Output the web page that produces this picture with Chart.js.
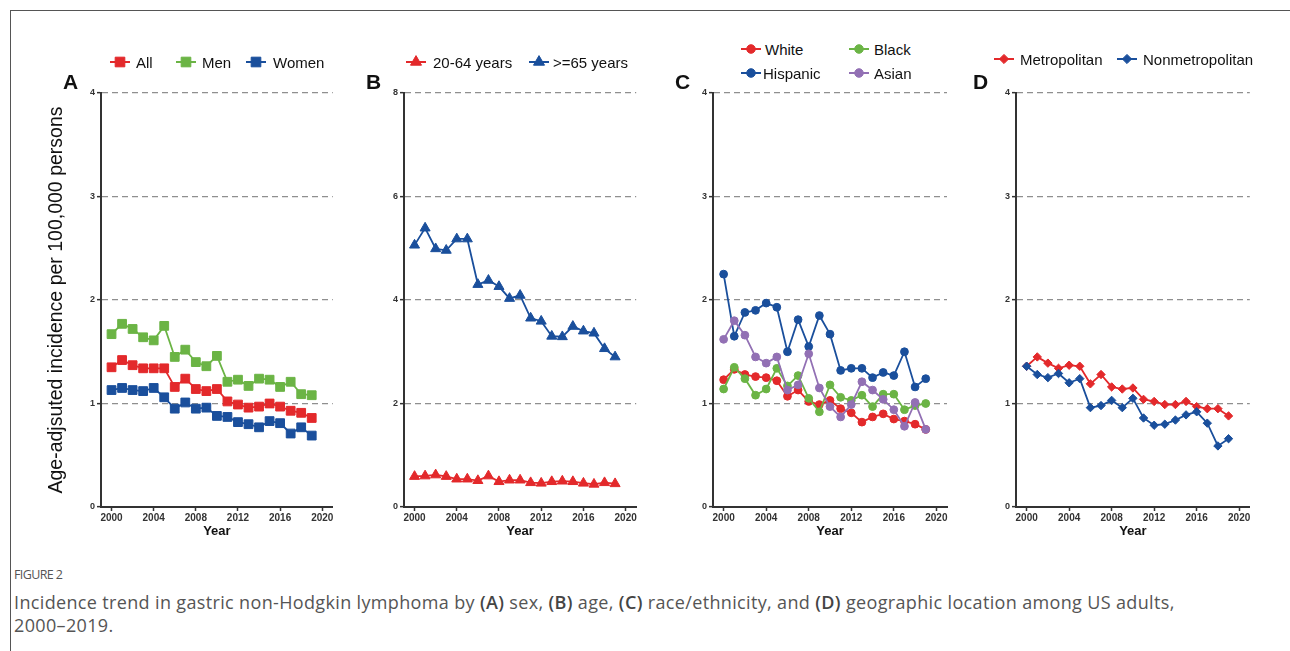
<!DOCTYPE html>
<html>
<head>
<meta charset="utf-8">
<script src="https://cdn.jsdelivr.net/npm/chart.js@4.4.1/dist/chart.umd.min.js"></script>
<style>
    body { margin: 0; background: #fff; width: 1290px; height: 651px; overflow: hidden; position: relative; font-family: Arial, "Liberation Sans", sans-serif; }
    .frame { position: absolute; left: 10px; top: 10px; width: 1300px; height: 700px; border-top: 1px solid #555; border-left: 1px solid #555; }
    canvas { position: absolute; }
    .letter { position: absolute; font-weight: bold; font-size: 21px; color: #111; line-height: 1; transform: translateY(-50%); }
    .leg { position: absolute; font-size: 15px; color: #111; line-height: 1; transform: translateY(-50%); white-space: nowrap; }
    .leg_icon { position: absolute; transform: translateY(-50%); }
    .fig_label { position: absolute; left: 14px; top: 566px; font-family: "Open Sans", sans-serif; font-size: 12.5px; color: #555; letter-spacing: -0.6px; }
    .caption { position: absolute; left: 14px; top: 591px; width: 1200px; font-family: "Open Sans", sans-serif; font-size: 18px; line-height: 23px; color: #555; letter-spacing: 0.35px; }
    .caption b { font-weight: 600; color: #444; }
</style>
</head>
<body>
<div class="frame"></div>

<canvas id="chart_a" width="300" height="467" style="left:40px;top:85px;width:300px;height:467px"></canvas>
<canvas id="chart_b" width="273" height="467" style="left:370px;top:85px;width:273px;height:467px"></canvas>
<canvas id="chart_c" width="273" height="467" style="left:679px;top:85px;width:273px;height:467px"></canvas>
<canvas id="chart_d" width="273" height="467" style="left:982px;top:85px;width:273px;height:467px"></canvas>

<div class="letter" style="left:63px;top:81px">A</div>
<div class="letter" style="left:366px;top:81px">B</div>
<div class="letter" style="left:675px;top:81px">C</div>
<div class="letter" style="left:973px;top:81px">D</div>

<div class="fig_label">FIGURE 2</div>
<div class="caption">Incidence trend in gastric non-Hodgkin lymphoma by <b>(A)</b> sex, <b>(B)</b> age, <b>(C)</b> race/ethnicity, and <b>(D)</b> geographic location among US adults,<br>2000–2019.</div>

<script>
"use strict";

const years = [2000, 2001, 2002, 2003, 2004, 2005, 2006, 2007, 2008, 2009,
               2010, 2011, 2012, 2013, 2014, 2015, 2016, 2017, 2018, 2019];

// Panel A: sex
const all_rates   = [1.35, 1.42, 1.37, 1.34, 1.34, 1.34, 1.16, 1.24, 1.14, 1.12, 1.14, 1.02, 0.99, 0.96, 0.97, 1.00, 0.97, 0.93, 0.91, 0.86];
const men_rates   = [1.67, 1.77, 1.72, 1.64, 1.61, 1.75, 1.45, 1.52, 1.40, 1.36, 1.46, 1.21, 1.23, 1.17, 1.24, 1.23, 1.16, 1.21, 1.09, 1.08];
const women_rates = [1.13, 1.15, 1.13, 1.12, 1.15, 1.06, 0.95, 1.01, 0.95, 0.96, 0.88, 0.87, 0.82, 0.80, 0.77, 0.83, 0.81, 0.71, 0.77, 0.69];

// Panel B: age
const age_20_64_rates = [0.59, 0.60, 0.62, 0.59, 0.54, 0.54, 0.51, 0.60, 0.49, 0.52, 0.52, 0.47, 0.46, 0.49, 0.50, 0.49, 0.46, 0.44, 0.47, 0.45];
const age_65_rates    = [5.06, 5.39, 4.99, 4.96, 5.18, 5.18, 4.30, 4.38, 4.26, 4.03, 4.09, 3.65, 3.59, 3.30, 3.29, 3.49, 3.40, 3.36, 3.06, 2.90];

// Panel C: race/ethnicity
const white_rates    = [1.23, 1.33, 1.28, 1.26, 1.25, 1.22, 1.07, 1.13, 1.02, 0.99, 1.03, 0.95, 0.91, 0.82, 0.87, 0.90, 0.85, 0.83, 0.80, 0.75];
const black_rates    = [1.14, 1.35, 1.24, 1.08, 1.14, 1.34, 1.17, 1.27, 1.05, 0.92, 1.18, 1.06, 1.03, 1.08, 0.97, 1.09, 1.09, 0.94, 0.98, 1.00];
const hispanic_rates = [2.25, 1.65, 1.88, 1.90, 1.97, 1.93, 1.50, 1.81, 1.55, 1.85, 1.67, 1.32, 1.34, 1.34, 1.25, 1.30, 1.27, 1.50, 1.16, 1.24];
const asian_rates    = [1.62, 1.80, 1.66, 1.45, 1.39, 1.45, 1.13, 1.18, 1.48, 1.15, 0.97, 0.87, 0.99, 1.21, 1.13, 1.04, 0.94, 0.78, 1.01, 0.75];

// Panel D: geography
const metro_rates    = [1.36, 1.45, 1.39, 1.34, 1.37, 1.36, 1.19, 1.28, 1.16, 1.14, 1.15, 1.04, 1.02, 0.99, 0.99, 1.02, 0.97, 0.95, 0.95, 0.88];
const nonmetro_rates = [1.36, 1.28, 1.25, 1.29, 1.20, 1.24, 0.96, 0.98, 1.03, 0.96, 1.05, 0.86, 0.79, 0.80, 0.84, 0.89, 0.92, 0.81, 0.59, 0.66];

const x_ticks   = [2000, 2004, 2008, 2012, 2016, 2020];
const y_ticks_4 = [0, 1, 2, 3, 4];
const y_ticks_8 = [0, 2, 4, 6, 8];

const colours = {
    red: "#e3292b",
    green: "#6bb445",
    blue: "#1a4f9c",
    purple: "#9270b4"
};

const marker_sizes = { rect: 6.2, triangle: 5.8, circle: 3.9, rectRot: 4.2 };

Chart.defaults.font.family = 'Arial, "Liberation Sans", sans-serif';
Chart.defaults.color = "#222";

function make_dataset(label, values, colour, shape, order) {
    return {
        label: label,
        data: values.map((v, i) => ({x: years[i], y: v})),
        borderColor: colour,
        backgroundColor: colour,
        pointBackgroundColor: colour,
        pointBorderColor: colour,
        pointBorderWidth: 1,
        pointStyle: shape,
        pointRadius: marker_sizes[shape],
        borderWidth: 1.8,
        fill: false,
        tension: 0,
        order: order
    };
}

function create_panel(canvas_id, datasets, y_ticks, y_axis_width, y_title) {
    let ctx = document.getElementById(canvas_id).getContext("2d");
    return new Chart(ctx, {
        type: "line",
        data: { datasets: datasets },
        options: {
            responsive: false,
            animation: false,
            devicePixelRatio: 1,
            layout: { padding: { top: 8, right: 4, left: 0, bottom: 0 } },
            plugins: {
                legend: { display: false },
                tooltip: { enabled: false }
            },
            scales: {
                x: {
                    type: "linear",
                    min: 1999,
                    max: 2021,
                    afterBuildTicks: axis => { axis.ticks = x_ticks.map(v => ({value: v})); },
                    afterFit: axis => { axis.height = 45; },
                    grid: { drawOnChartArea: false, tickLength: 4, tickColor: "#333", tickWidth: 1.5 },
                    border: { color: "#333", width: 2 },
                    ticks: { font: { size: 10, weight: "bold" }, color: "#333", padding: 1, maxRotation: 0, callback: v => String(v) },
                    title: { display: true, text: "Year", font: { size: 13, weight: "bold" }, color: "#111", padding: { top: 0, bottom: 13 } }
                },
                y: {
                    min: 0,
                    max: y_ticks[y_ticks.length - 1],
                    afterBuildTicks: axis => { axis.ticks = y_ticks.map(v => ({value: v})); },
                    afterFit: axis => { axis.width = y_axis_width; },
                    grid: {
                        color: c => (c.tick && c.tick.value === 0) ? "rgba(0,0,0,0)" : "#8f8f8f",
                        lineWidth: 1.3,
                        tickLength: 4,
                        tickColor: "#333",
                        tickWidth: 1.5,
                        tickBorderDash: []
                    },
                    border: { color: "#333", width: 2, dash: [6, 4] },
                    ticks: { font: { size: 9, weight: "bold" }, color: "#333", padding: 2 },
                    title: {
                        display: !!y_title,
                        text: y_title || "",
                        font: { size: 19.5 },
                        color: "#111",
                        padding: { top: 5, bottom: 0 }
                    }
                }
            }
        }
    });
}

function draw_marker(ctx, shape, x, y, r) {
    ctx.beginPath();
    if (shape === "rect") {
        let s = r * Math.SQRT1_2;
        ctx.rect(x - s, y - s, 2 * s, 2 * s);
    } else if (shape === "circle") {
        ctx.arc(x, y, r, 0, Math.PI * 2);
    } else if (shape === "triangle") {
        ctx.moveTo(x, y - r);
        ctx.lineTo(x + r * 0.866, y + r * 0.5);
        ctx.lineTo(x - r * 0.866, y + r * 0.5);
        ctx.closePath();
    } else {
        ctx.moveTo(x, y - r);
        ctx.lineTo(x + r, y);
        ctx.lineTo(x, y + r);
        ctx.lineTo(x - r, y);
        ctx.closePath();
    }
    ctx.fill();
    ctx.stroke();
}

function add_legend_item(label, colour, shape, icon_left, text_left, centre_y) {
    let icon = document.createElement("canvas");
    icon.width = 20;
    icon.height = 16;
    icon.className = "leg_icon";
    icon.style.left = icon_left + "px";
    icon.style.top = centre_y + "px";
    let ctx = icon.getContext("2d");
    ctx.strokeStyle = colour;
    ctx.fillStyle = colour;
    ctx.lineWidth = 2;
    ctx.beginPath();
    ctx.moveTo(0, 8);
    ctx.lineTo(20, 8);
    ctx.stroke();
    ctx.lineWidth = 1;
    draw_marker(ctx, shape, 10, 8, marker_sizes[shape] * 1.1);
    document.body.appendChild(icon);

    let text = document.createElement("div");
    text.className = "leg";
    text.textContent = label;
    text.style.left = text_left + "px";
    text.style.top = centre_y + "px";
    document.body.appendChild(text);
}

create_panel("chart_a", [
    make_dataset("All", all_rates, colours.red, "rect", 0),
    make_dataset("Men", men_rates, colours.green, "rect", 1),
    make_dataset("Women", women_rates, colours.blue, "rect", 2)
], y_ticks_4, 61, "Age-adjsuted incidence per 100,000 persons");

create_panel("chart_b", [
    make_dataset("20-64 years", age_20_64_rates, colours.red, "triangle", 0),
    make_dataset(">=65 years", age_65_rates, colours.blue, "triangle", 1)
], y_ticks_8, 34, null);

create_panel("chart_c", [
    make_dataset("White", white_rates, colours.red, "circle", 3),
    make_dataset("Black", black_rates, colours.green, "circle", 1),
    make_dataset("Hispanic", hispanic_rates, colours.blue, "circle", 2),
    make_dataset("Asian", asian_rates, colours.purple, "circle", 0)
], y_ticks_4, 34, null);

create_panel("chart_d", [
    make_dataset("Metropolitan", metro_rates, colours.red, "rectRot", 1),
    make_dataset("Nonmetropolitan", nonmetro_rates, colours.blue, "rectRot", 0)
], y_ticks_4, 34, null);

add_legend_item("All", colours.red, "rect", 110, 136, 62);
add_legend_item("Men", colours.green, "rect", 176, 202, 62);
add_legend_item("Women", colours.blue, "rect", 246, 273, 62);

add_legend_item("20-64 years", colours.red, "triangle", 406, 433, 62);
add_legend_item(">=65 years", colours.blue, "triangle", 529, 553, 62);

add_legend_item("White", colours.red, "circle", 741, 765, 49);
add_legend_item("Black", colours.green, "circle", 849, 874, 49);
add_legend_item("Hispanic", colours.blue, "circle", 741, 763, 73);
add_legend_item("Asian", colours.purple, "circle", 849, 874, 73);

add_legend_item("Metropolitan", colours.red, "rectRot", 994, 1020, 59);
add_legend_item("Nonmetropolitan", colours.blue, "rectRot", 1117, 1143, 59);
</script>
</body>
</html>
